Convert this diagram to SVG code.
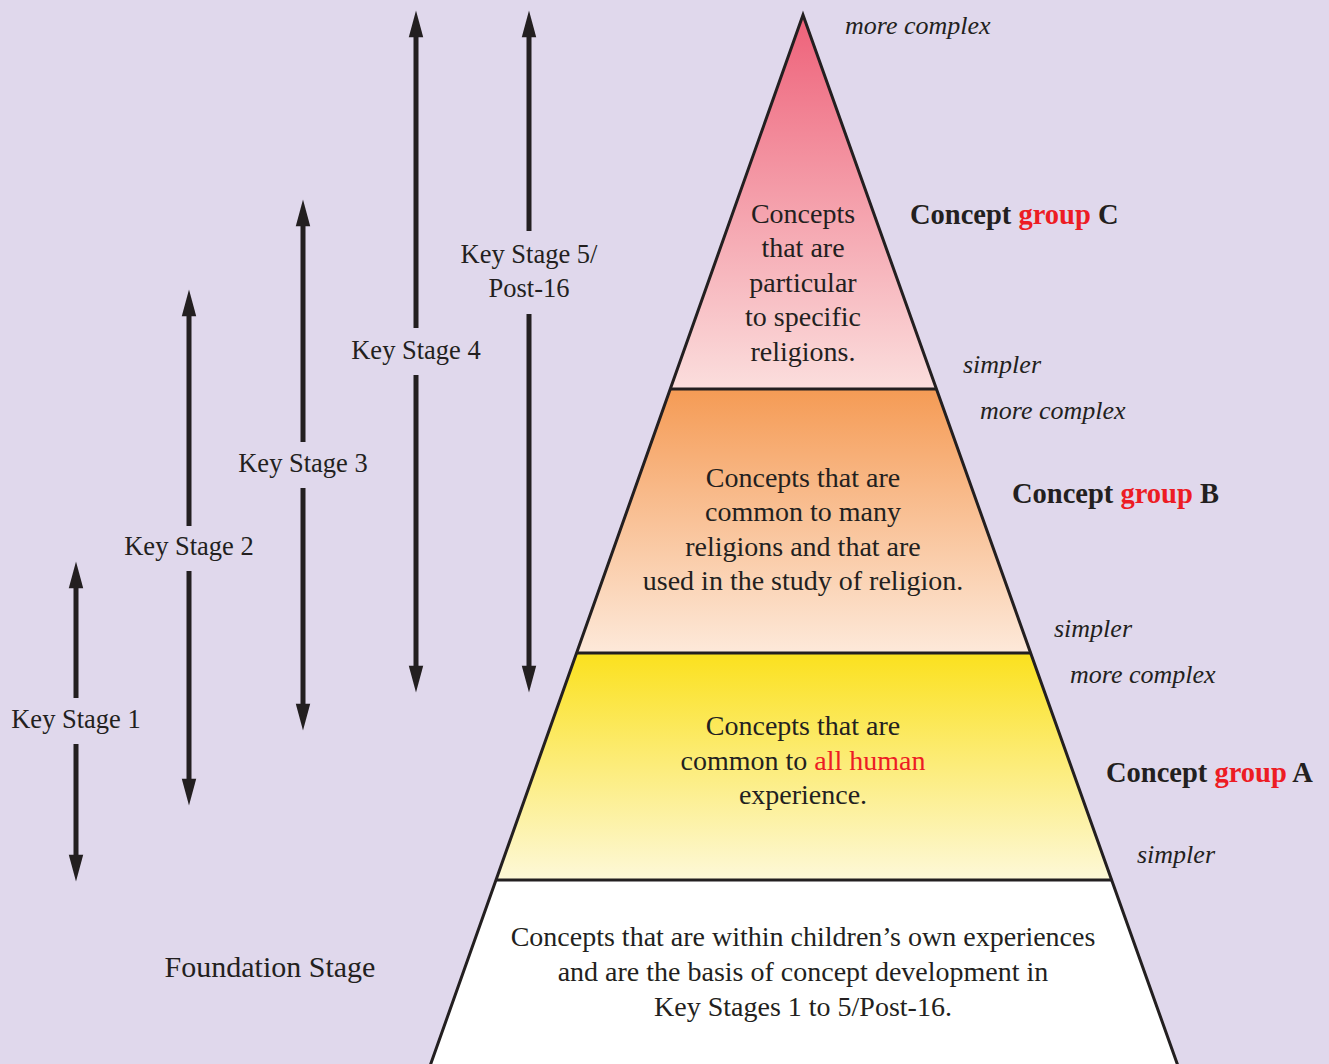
<svg xmlns="http://www.w3.org/2000/svg" width="1329" height="1064" viewBox="0 0 1329 1064">
<style>
text{font-family:"Liberation Serif","Times New Roman",serif;fill:#231f20}
.p{font-size:28px;text-anchor:middle}
.ks{font-size:26.5px;text-anchor:middle}
.it{font-size:26px;font-style:italic}
.b{font-size:28.5px;font-weight:bold}
.r{fill:#ed1c24}
.arr{stroke:#231f20;stroke-width:5;fill:none;marker-end:url(#ah)}
.edge{stroke:#231f20;stroke-width:3;fill:none;stroke-linejoin:miter}
</style>
<defs>
<marker id="ah" markerUnits="userSpaceOnUse" markerWidth="30" markerHeight="20" refX="0" refY="0" orient="auto" viewBox="-3 -7 27 14" overflow="visible">
<path d="M-2,-6.5 L22,0 L-2,6.5 Z" fill="#231f20"/>
</marker>
<linearGradient id="gC" x1="0" y1="15" x2="0" y2="389" gradientUnits="userSpaceOnUse">
<stop offset="0" stop-color="#ee6179"/>
<stop offset="1" stop-color="#fbdedd"/>
</linearGradient>
<linearGradient id="gB" x1="0" y1="389" x2="0" y2="653" gradientUnits="userSpaceOnUse">
<stop offset="0" stop-color="#f59b55"/>
<stop offset="1" stop-color="#fde9da"/>
</linearGradient>
<linearGradient id="gA" x1="0" y1="653" x2="0" y2="880" gradientUnits="userSpaceOnUse">
<stop offset="0" stop-color="#fbe11e"/>
<stop offset="1" stop-color="#fdf8d8"/>
</linearGradient>
</defs>
<rect width="1329" height="1064" fill="#e0d8ec"/>

<g id="pyramid">
<g id="band-c"><polygon points="803,15 936.7,389 670,389" fill="url(#gC)"/></g>
<g id="band-b"><polygon points="670,389 936.7,389 1031.1,653 576.1,653" fill="url(#gB)"/></g>
<g id="band-a"><polygon points="576.1,653 1031.1,653 1112.2,880 495.4,880" fill="url(#gA)"/></g>
<g id="band-f"><polygon points="495.4,880 1112.2,880 1178,1064 430,1064" fill="#ffffff"/></g>
<path class="edge" d="M430,1066 L803,15 L1178,1066"/>
<path class="edge" d="M670,389 H936.7 M576.1,653 H1031.1 M495.4,880 H1112.2"/>
</g>

<g id="text-c">
<text class="p" x="803" y="223">Concepts</text>
<text class="p" x="803" y="257">that are</text>
<text class="p" x="803" y="292">particular</text>
<text class="p" x="803" y="326">to specific</text>
<text class="p" x="803" y="361">religions.</text>
</g>
<g id="text-b">
<text class="p" x="803" y="487">Concepts that are</text>
<text class="p" x="803" y="521">common to many</text>
<text class="p" x="803" y="556">religions and that are</text>
<text class="p" x="803" y="590">used in the study of religion.</text>
</g>
<g id="text-a">
<text class="p" x="803" y="735">Concepts that are</text>
<text class="p" x="803" y="770">common to <tspan class="r">all human</tspan></text>
<text class="p" x="803" y="804">experience.</text>
</g>
<g id="text-f">
<text class="p" x="803" y="946">Concepts that are within children’s own experiences</text>
<text class="p" x="803" y="981">and are the basis of concept development in</text>
<text class="p" x="803" y="1016">Key Stages 1 to 5/Post-16.</text>
</g>

<g id="labels-right">
<text class="it" x="845" y="34">more complex</text>
<text class="b" x="910" y="224">Concept <tspan class="r">group</tspan> C</text>
<text class="it" x="963" y="373">simpler</text>
<text class="it" x="980" y="419">more complex</text>
<text class="b" x="1012" y="503">Concept <tspan class="r">group</tspan> B</text>
<text class="it" x="1054" y="637">simpler</text>
<text class="it" x="1070" y="683">more complex</text>
<text class="b" x="1106" y="782">Concept <tspan class="r">group</tspan> A</text>
<text class="it" x="1137" y="863">simpler</text>
</g>

<g id="foundation-stage">
<text x="270" y="977" style="font-size:30px;text-anchor:middle">Foundation Stage</text>
</g>

<g id="connectors">
<g id="ks1">
<line class="arr" x1="76" y1="698" x2="76" y2="586"/>
<line class="arr" x1="76" y1="744" x2="76" y2="857"/>
</g>
<g id="ks2">
<line class="arr" x1="189" y1="526" x2="189" y2="314"/>
<line class="arr" x1="189" y1="571" x2="189" y2="781"/>
</g>
<g id="ks3">
<line class="arr" x1="303" y1="442" x2="303" y2="224"/>
<line class="arr" x1="303" y1="488" x2="303" y2="706"/>
</g>
<g id="ks4">
<line class="arr" x1="416" y1="328" x2="416" y2="35"/>
<line class="arr" x1="416" y1="375" x2="416" y2="668"/>
</g>
<g id="ks5">
<line class="arr" x1="529" y1="231" x2="529" y2="35"/>
<line class="arr" x1="529" y1="314" x2="529" y2="668"/>
</g>
</g>

<g id="ks-labels">
<text class="ks" x="76" y="728">Key Stage 1</text>
<text class="ks" x="189" y="555">Key Stage 2</text>
<text class="ks" x="303" y="472">Key Stage 3</text>
<text class="ks" x="416" y="359">Key Stage 4</text>
<text class="ks" x="529" y="263">Key Stage 5/</text>
<text class="ks" x="529" y="297">Post-16</text>
</g>
</svg>
